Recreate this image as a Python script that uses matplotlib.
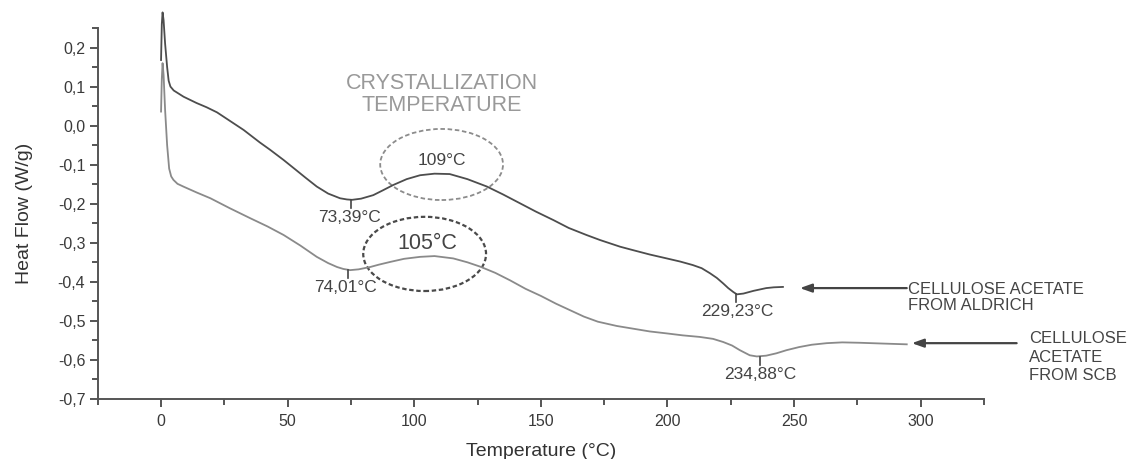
import matplotlib
matplotlib.use("Agg")
import matplotlib.pyplot as plt
from matplotlib.patches import Ellipse
from matplotlib.ticker import FuncFormatter, MultipleLocator

plt.rcParams['font.family'] = ['Liberation Sans', 'DejaVu Sans']

# heat flow curves (temperature in degC, heat flow in W/g)
aldrich_t = [0.0, 0.3, 0.6, 1.0, 1.6, 2.4, 3.0, 3.7, 5.0, 8.9, 14, 18, 22.1, 27, 32.6,
             35.2, 39, 43.1, 48.4, 53, 57, 61.5, 66, 70.7, 73.4, 75.4, 79, 83.8, 87.5,
             91.7, 97, 102.3, 108, 114, 121, 128.7, 135, 141.8, 148, 155, 161, 168,
             173.4, 181.3, 186.5, 193, 199.7, 205, 210, 213.5, 216.8, 219.5, 222, 224,
             226, 227.4, 230, 234, 239, 242, 245.6]
aldrich_hf = [0.168, 0.26, 0.29, 0.27, 0.21, 0.15, 0.115, 0.100, 0.090, 0.074, 0.058,
              0.047, 0.034, 0.013, -0.011, -0.024, -0.043, -0.062, -0.088, -0.112,
              -0.133, -0.156, -0.174, -0.186, -0.189, -0.190, -0.187, -0.178, -0.166,
              -0.152, -0.137, -0.127, -0.123, -0.124, -0.137, -0.156, -0.176, -0.199,
              -0.220, -0.242, -0.262, -0.280, -0.293, -0.310, -0.319, -0.330, -0.340,
              -0.348, -0.357, -0.365, -0.378, -0.390, -0.404, -0.416, -0.426, -0.432,
              -0.430, -0.423, -0.416, -0.414, -0.413]

scb_t = [0.0, 0.3, 0.6, 1.0, 1.6, 2.4, 3.2, 4.0, 4.9, 6.5, 8.8, 14, 19.5, 27, 35.2,
         42, 48.4, 55, 61.5, 66, 69.5, 72, 74.7, 78, 82.6, 86, 90.5, 96, 102.3, 108,
         115.4, 121, 126, 132, 137.8, 144, 150, 156, 162, 167, 172.5, 180, 186.5, 193,
         199.7, 206, 212.7, 218, 222, 225.5, 228.6, 232.5, 235.3, 239, 243, 247, 252,
         257, 262.9, 269, 276, 285, 294.5]
scb_hf = [0.036, 0.12, 0.16, 0.13, 0.04, -0.05, -0.11, -0.13, -0.139, -0.149, -0.156,
          -0.171, -0.186, -0.211, -0.237, -0.258, -0.280, -0.307, -0.336, -0.352,
          -0.362, -0.367, -0.370, -0.368, -0.362, -0.356, -0.349, -0.341, -0.336,
          -0.334, -0.340, -0.350, -0.361, -0.377, -0.396, -0.418, -0.436, -0.456,
          -0.474, -0.489, -0.502, -0.513, -0.520, -0.527, -0.532, -0.537, -0.541,
          -0.546, -0.554, -0.563, -0.575, -0.588, -0.591, -0.589, -0.583, -0.575,
          -0.567, -0.561, -0.557, -0.555, -0.556, -0.558, -0.560]

# peak temperatures, where their small marks sit, and their labels
peak_labels = ['73,39°C', '74,01°C', '229,23°C', '234,88°C']
peak_t = [75.0, 74.0, 227.0, 236.5]
peak_hf = [-0.190, -0.370, -0.432, -0.592]
label_t = [74.3, 73.0, 227.4, 236.5]

fig = plt.figure(figsize=(11.34, 4.59), dpi=100)
ax = fig.add_axes([0.0862, 0.1307, 0.7815, 0.8083])

ax.plot(aldrich_t, aldrich_hf, color='#4d4d4d', lw=1.3, clip_on=False)
ax.plot(scb_t, scb_hf, color='#8a8a8a', lw=1.3, clip_on=False)

ax.set_xlim(-25, 325)
ax.set_ylim(-0.7, 0.25)

for s in ['top', 'right']:
    ax.spines[s].set_visible(False)
for s in ['left', 'bottom']:
    ax.spines[s].set_color('#555555')
    ax.spines[s].set_linewidth(1.4)

ax.xaxis.set_major_locator(MultipleLocator(50))
ax.xaxis.set_minor_locator(MultipleLocator(25))
ax.yaxis.set_major_locator(MultipleLocator(0.1))
ax.yaxis.set_minor_locator(MultipleLocator(0.05))
ax.yaxis.set_major_formatter(FuncFormatter(
    lambda v, p: ('%.1f' % v).replace('.', ',').replace('-0,0', '0,0')))
ax.tick_params(which='both', direction='out', color='#555555', width=1.4,
               labelsize=11.5, labelcolor='#3a3a3a')
ax.tick_params(which='major', length=6)
ax.tick_params(which='minor', length=4)
ax.tick_params(axis='x', pad=5)
ax.tick_params(axis='y', pad=3)

ax.set_xlabel('Temperature (°C)', fontsize=14, color='#333333', labelpad=10)
ax.set_ylabel('Heat Flow (W/g)', fontsize=14, color='#333333', labelpad=18)

# marks and labels under the minima
for lab, t, hf, lt in zip(peak_labels, peak_t, peak_hf, label_t):
    ax.plot([t, t], [hf, hf - 0.02], color='#444444', lw=1.2)
    ax.text(lt, hf - 0.045, lab, ha='center', va='center', fontsize=12.5,
            color='#444444')

# crystallization ellipses
ax.add_patch(Ellipse((110.8, -0.0995), 48.5, 0.182, fill=False, ec='#8c8c8c',
                     lw=1.3, ls=(0, (2.5, 1.5))))
ax.add_patch(Ellipse((104.1, -0.3285), 48.5, 0.19, fill=False, ec='#4a4a4a',
                     lw=1.6, ls=(0, (2, 1.2))))
ax.text(111, -0.088, '109°C', ha='center', va='center', fontsize=12.5,
        color='#444444')
ax.text(105, -0.301, '105°C', ha='center', va='center', fontsize=15.5,
        color='#444444')
ax.text(111, 0.079, 'CRYSTALLIZATION\nTEMPERATURE', ha='center', va='center',
        fontsize=15.5, color='#999999', linespacing=1.08)

# sample arrows
arrow = dict(arrowstyle='-|>,head_length=0.7,head_width=0.25', color='#444444',
             lw=1.6, shrinkA=0, shrinkB=0)
ax.annotate('', xy=(252.3, -0.416), xytext=(294.5, -0.416), arrowprops=arrow,
            annotation_clip=False)
ax.annotate('', xy=(296.5, -0.557), xytext=(337.9, -0.557), arrowprops=arrow,
            annotation_clip=False)
ax.text(295, -0.44, 'CELLULOSE ACETATE\nFROM ALDRICH', ha='left', va='center',
        fontsize=12, color='#444444', linespacing=1.1, clip_on=False)
ax.text(342.7, -0.593, 'CELLULOSE\nACETATE\nFROM SCB', ha='left', va='center',
        fontsize=12, color='#444444', linespacing=1.3, clip_on=False)

fig.savefig('out.png', dpi=100)
